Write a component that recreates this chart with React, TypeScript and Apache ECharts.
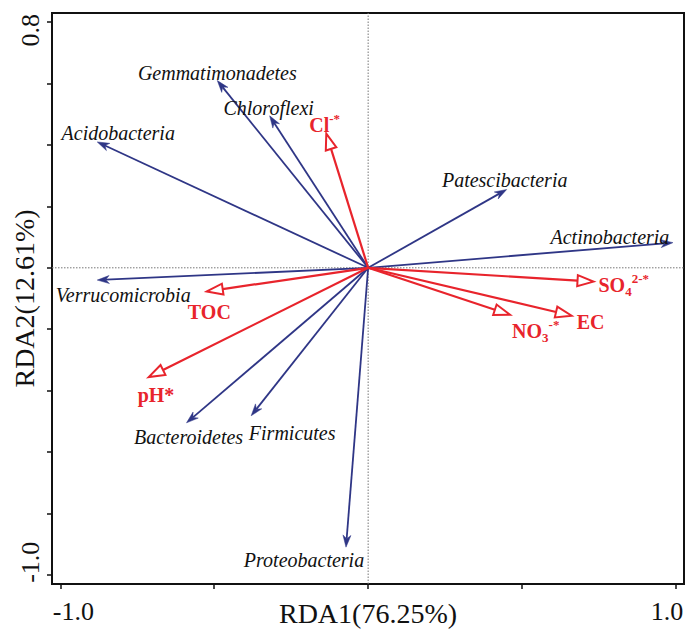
import React, { useEffect, useRef } from "react";
import * as echarts from "echarts";

const FONT = "'Times New Roman','Liberation Serif',serif";
const BLUE = "#2f3686";
const RED = "#e8242c";

// Species (response) scores
const speciesNames = [
  "Gemmatimonadetes",
  "Chloroflexi",
  "Acidobacteria",
  "Patescibacteria",
  "Actinobacteria",
  "Verrucomicrobia",
  "Bacteroidetes",
  "Firmicutes",
  "Proteobacteria",
];
const speciesRDA1 = [-0.49, -0.32, -0.88, 0.45, 0.99, -0.88, -0.59, -0.38, -0.072];
const speciesRDA2 = [0.61, 0.495, 0.41, 0.255, 0.082, -0.04, -0.505, -0.482, -0.91];

// Environmental factors
const envBase = ["Cl", "SO", "EC", "NO", "TOC", "pH*"];
const envSub = ["", "4", "", "3", "", ""];
const envSup = ["-*", "2-*", "", "-*", "", ""];
const envRDA1 = [-0.136, 0.732, 0.661, 0.461, -0.524, -0.713];
const envRDA2 = [0.437, -0.045, -0.156, -0.153, -0.077, -0.356];

// Axes
const xTickValues = [-1, -0.5, 0, 0.5, 1];
const xLabelValues = [-1, 1];
const xTickLabels = ["-1.0", "1.0"];
const yTickValues = [-1, -0.8, -0.6, -0.4, -0.2, 0, 0.2, 0.4, 0.6, 0.8];
const yLabelValues = [-1, 0.8];
const yTickLabels = ["-1.0", "0.8"];
const xName = "RDA1(76.25%)";
const yName = "RDA2(12.61%)";

// label layout (pixel offsets from arrow tip)
const speciesLabelOffset = [
  [0, -8],
  [-1, -8],
  [21, -9],
  [-2, -10],
  [-63, -6],
  [26, 15],
  [2, 14],
  [41, 17],
  [-42, 13],
];
const envLabelOffset = [
  [-17, -9],
  [5, 3],
  [5, 6],
  [2, 16],
  [-19, 21],
  [-11, 18],
];

const X_MIN = -1.027;
const X_MAX = 1.026;
const Y_MIN = -1.03;
const Y_MAX = 0.83;

function arrowGeom(api: any, headLen: number, halfW: number) {
  const o = api.coord([0, 0]);
  const t = api.coord([api.value(0), api.value(1)]);
  const dx = t[0] - o[0];
  const dy = t[1] - o[1];
  const len = Math.hypot(dx, dy) || 1;
  const ux = dx / len;
  const uy = dy / len;
  const px = -uy;
  const py = ux;
  const bx = t[0] - ux * headLen;
  const by = t[1] - uy * headLen;
  return { o, t, ux, uy, px, py, bx, by, halfW, headLen };
}

export default function App() {
  const ref = useRef<HTMLDivElement>(null);
  useEffect(() => {
    if (!ref.current) return;
    const chart = echarts.init(ref.current, undefined, { renderer: "svg" });

    const speciesData = speciesNames.map((_, i) => [speciesRDA1[i], speciesRDA2[i]]);
    const envData = envBase.map((_, i) => [envRDA1[i], envRDA2[i]]);

    const envText = envBase.map((b, i) => {
      let s = `{b|${b}}`;
      if (envSub[i]) s += `{sub|${envSub[i]}}`;
      if (envSup[i]) s += `{sup|${envSup[i]}}`;
      return s;
    });

    const option: any = {
      animation: false,
      grid: {
        left: 52,
        right: 1,
        top: 13,
        bottom: 48,
        show: true,
        borderColor: "#111",
        borderWidth: 2,
        containLabel: false,
        outerBoundsMode: "none",
      },
      xAxis: {
        type: "value",
        min: X_MIN,
        max: X_MAX,
        position: "bottom",
        name: xName,
        nameLocation: "middle",
        nameGap: 15,
        nameMoveOverlap: false,
        nameTextStyle: { fontFamily: FONT, fontSize: 28, color: "#111", verticalAlign: "top" },
        axisLine: { onZero: false, lineStyle: { color: "#111", width: 2 } },
        axisTick: {
          show: true,
          customValues: xTickValues,
          length: 5,
          lineStyle: { color: "#111", width: 1.5 },
        },
        axisLabel: {
          customValues: xLabelValues,
          margin: 14,
          fontFamily: FONT,
          fontSize: 26,
          color: "#111",
          formatter: (v: number) => {
            const i = xLabelValues.indexOf(v);
            if (i === 0) return `{lo|${xTickLabels[0]}}`;
            if (i === 1) return `{hi|${xTickLabels[1]}}`;
            return "";
          },
          rich: {
            lo: { fontFamily: FONT, fontSize: 26, color: "#111", padding: [0, 0, 0, 26] },
            hi: { fontFamily: FONT, fontSize: 26, color: "#111", padding: [0, 18, 0, 0] },
          },
        },
        splitLine: { show: false },
      },
      yAxis: {
        type: "value",
        min: Y_MIN,
        max: Y_MAX,
        position: "left",
        name: yName,
        nameLocation: "middle",
        nameGap: 14,
        nameMoveOverlap: false,
        nameTextStyle: { fontFamily: FONT, fontSize: 28, color: "#111" },
        axisLine: { onZero: false, lineStyle: { color: "#111", width: 2 } },
        axisTick: {
          show: true,
          customValues: yTickValues,
          length: 5,
          lineStyle: { color: "#111", width: 1.5 },
        },
        axisLabel: {
          customValues: yLabelValues,
          rotate: 90,
          margin: 9,
          fontFamily: FONT,
          fontSize: 26,
          color: "#111",
          formatter: (v: number) => {
            const i = yLabelValues.indexOf(v);
            if (i === 0) return `{lo|${yTickLabels[0]}}`;
            if (i === 1) return `{hi|${yTickLabels[1]}}`;
            return "";
          },
          rich: {
            lo: { fontFamily: FONT, fontSize: 26, color: "#111", padding: [0, 0, 0, 25] },
            hi: { fontFamily: FONT, fontSize: 26, color: "#111", padding: [0, 16, 0, 0] },
          },
        },
        splitLine: { show: false },
      },
      series: [
        {
          type: "line",
          data: [
            [0, Y_MIN],
            [0, Y_MAX],
          ],
          symbol: "none",
          z: 1,
          silent: true,
          lineStyle: { color: "#777", width: 1, type: [1.5, 1.5] },
        },
        {
          type: "line",
          data: [
            [X_MIN, 0],
            [X_MAX, 0],
          ],
          symbol: "none",
          z: 1,
          silent: true,
          lineStyle: { color: "#777", width: 1, type: [1.5, 1.5] },
        },
        {
          type: "custom",
          z: 3,
          data: speciesData,
          encode: { x: 0, y: 1 },
          renderItem: (params: any, api: any) => {
            const i = params.dataIndex;
            const g = arrowGeom(api, 12, 4);
            const nx = g.t[0] - g.ux * g.headLen * 0.7;
            const ny = g.t[1] - g.uy * g.headLen * 0.7;
            const off = speciesLabelOffset[i];
            return {
              type: "group",
              children: [
                {
                  type: "line",
                  shape: { x1: g.o[0], y1: g.o[1], x2: nx, y2: ny },
                  style: { stroke: BLUE, lineWidth: 1.8 },
                },
                {
                  type: "polygon",
                  shape: {
                    points: [
                      [g.t[0], g.t[1]],
                      [g.bx + g.px * g.halfW, g.by + g.py * g.halfW],
                      [nx, ny],
                      [g.bx - g.px * g.halfW, g.by - g.py * g.halfW],
                    ],
                  },
                  style: { fill: BLUE, stroke: BLUE, lineWidth: 0.5 },
                },
                {
                  type: "text",
                  x: g.t[0] + off[0],
                  y: g.t[1] + off[1],
                  style: {
                    text: speciesNames[i],
                    fill: "#111",
                    fontFamily: FONT,
                    fontSize: 20,
                    fontStyle: "italic",
                    align: "center",
                    verticalAlign: "middle",
                  },
                },
              ],
            };
          },
        },
        {
          type: "custom",
          z: 4,
          data: envData,
          encode: { x: 0, y: 1 },
          renderItem: (params: any, api: any) => {
            const i = params.dataIndex;
            const g = arrowGeom(api, 16, 5.5);
            const off = envLabelOffset[i];
            return {
              type: "group",
              children: [
                {
                  type: "line",
                  shape: { x1: g.o[0], y1: g.o[1], x2: g.bx, y2: g.by },
                  style: { stroke: RED, lineWidth: 2.2 },
                },
                {
                  type: "polygon",
                  shape: {
                    points: [
                      [g.t[0], g.t[1]],
                      [g.bx + g.px * g.halfW, g.by + g.py * g.halfW],
                      [g.bx - g.px * g.halfW, g.by - g.py * g.halfW],
                    ],
                  },
                  style: { fill: "#fff", stroke: RED, lineWidth: 2 },
                },
                {
                  type: "text",
                  x: g.t[0] + off[0],
                  y: g.t[1] + off[1],
                  style: {
                    text: envText[i],
                    fill: RED,
                    fontFamily: FONT,
                    fontSize: 20,
                    fontWeight: "bold",
                    align: "left",
                    verticalAlign: "middle",
                    rich: {
                      b: { fill: RED, fontFamily: FONT, fontSize: 20, fontWeight: "bold", lineHeight: 26 },
                      sub: { fill: RED, fontFamily: FONT, fontSize: 13, fontWeight: "bold", verticalAlign: "bottom", lineHeight: 14 },
                      sup: { fill: RED, fontFamily: FONT, fontSize: 13, fontWeight: "bold", verticalAlign: "top", lineHeight: 14 },
                    },
                  },
                },
              ],
            };
          },
        },
      ],
    };
    chart.setOption(option);
    return () => chart.dispose();
  }, []);
  return (
    <div
      ref={ref}
      style={{ position: "absolute", left: 0, top: 0, width: 685, height: 632, background: "#fff" }}
    />
  );
}
